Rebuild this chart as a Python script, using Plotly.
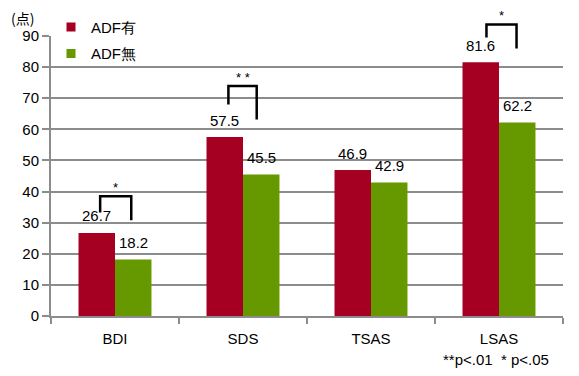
import plotly.graph_objects as go

categories = ["BDI", "SDS", "TSAS", "LSAS"]
adf_yes = [26.7, 57.5, 46.9, 81.6]
adf_no = [18.2, 45.5, 42.9, 62.2]
series_names = ["ADF有", "ADF無"]
y_ticks = [0, 10, 20, 30, 40, 50, 60, 70, 80, 90]
sig_labels = ["*", "* *", "", "*"]

RED = "#A50021"
GREEN = "#669900"
GRID = "#8C8C8C"
FONT = "Liberation Sans, Arial, sans-serif"
Y_MAX = 90
BARGAP = 0.43
HALF = (1 - BARGAP) / 4  # offset of each bar centre from category centre

fig = go.Figure()
fig.add_trace(go.Bar(x=categories, y=adf_yes, name=series_names[0],
                     marker=dict(color=RED, line=dict(width=0)), showlegend=False))
fig.add_trace(go.Bar(x=categories, y=adf_no, name=series_names[1],
                     marker=dict(color=GREEN, line=dict(width=0)), showlegend=False))
# legend-only entries with small square symbols
for nm, col, grp in [(series_names[0], RED, "a"), (series_names[1], GREEN, "b")]:
    fig.add_trace(go.Scatter(x=[None], y=[None], mode="markers", name=nm,
                             legendgroup=grp,
                             marker=dict(symbol="square", size=9, color=col)))

annotations = []
# value labels
for i, (a, b) in enumerate(zip(adf_yes, adf_no)):
    for v, off in [(a, -HALF), (b, HALF)]:
        annotations.append(dict(x=i + off, y=v, xref="x", yref="y",
                                text=f"{v:.1f}", showarrow=False,
                                yanchor="middle", yshift=17,
                                font=dict(size=15, color="black", family=FONT)))

# significance brackets (left leg x, right leg x, top, left bottom, right bottom)
brackets = {
    0: (-0.116, 0.127, 38.5, 33.3, 30.8),
    1: (-0.114, 0.107, 73.9, 68.0, 63.2),
    3: (-0.098, 0.137, 93.7, 89.5, 86.0),
}
shapes = []
for i, (xl, xr, top, lb, rb) in brackets.items():
    path = (f"M{i + xl},{lb / Y_MAX} L{i + xl},{top / Y_MAX} "
            f"L{i + xr},{top / Y_MAX} L{i + xr},{rb / Y_MAX}")
    shapes.append(dict(type="path", xref="x", yref="paper", path=path,
                       line=dict(color="black", width=2.5)))
    annotations.append(dict(x=i + (xl + xr) / 2, y=top / Y_MAX, xref="x", yref="paper",
                            text=sig_labels[i], showarrow=False, yanchor="bottom",
                            yshift=-1,
                            font=dict(size=13, color="black", family=FONT)))

annotations.append(dict(x=-0.056, y=1.066, xref="paper", yref="paper", text="(点)",
                        showarrow=False, xanchor="center", yanchor="middle",
                        borderpad=0,
                        font=dict(size=14, color="black", family="Noto Sans CJK JP")))
annotations.append(dict(x=0.870, y=-0.155, xref="paper", yref="paper",
                        text="**p<.01  * p<.05", showarrow=False,
                        xanchor="center", yanchor="middle",
                        font=dict(size=15, color="black", family=FONT)))

# the page body adds an 8px margin, so the figure is sized to fit the window
fig.update_layout(
    width=563, height=360,
    margin=dict(l=43, r=8, t=28, b=52, autoexpand=False),
    paper_bgcolor="white", plot_bgcolor="white",
    barmode="group", bargap=BARGAP, bargroupgap=0,
    font=dict(family=FONT, size=15, color="black"),
    showlegend=True,
    legend=dict(x=0.0, y=1.09, xanchor="left", yanchor="top",
                traceorder="grouped", tracegroupgap=4,
                bgcolor="rgba(0,0,0,0)",
                font=dict(size=15, family=FONT, color="black")),
    annotations=annotations,
    shapes=shapes,
    xaxis=dict(type="category", tickson="boundaries", ticks="outside",
               ticklen=6, tickwidth=2, tickcolor=GRID,
               showline=True, linecolor=GRID, linewidth=2,
               showgrid=False, ticklabelstandoff=8,
               tickfont=dict(size=15, family=FONT, color="black")),
    yaxis=dict(range=[0, Y_MAX], tickvals=y_ticks, ticks="outside",
               ticklen=7, tickwidth=2, tickcolor=GRID,
               showline=True, linecolor=GRID, linewidth=2,
               showgrid=True, gridcolor=GRID, gridwidth=2,
               zeroline=False,
               tickfont=dict(size=15, family=FONT, color="black")),
)

fig.write_html("out.html")
